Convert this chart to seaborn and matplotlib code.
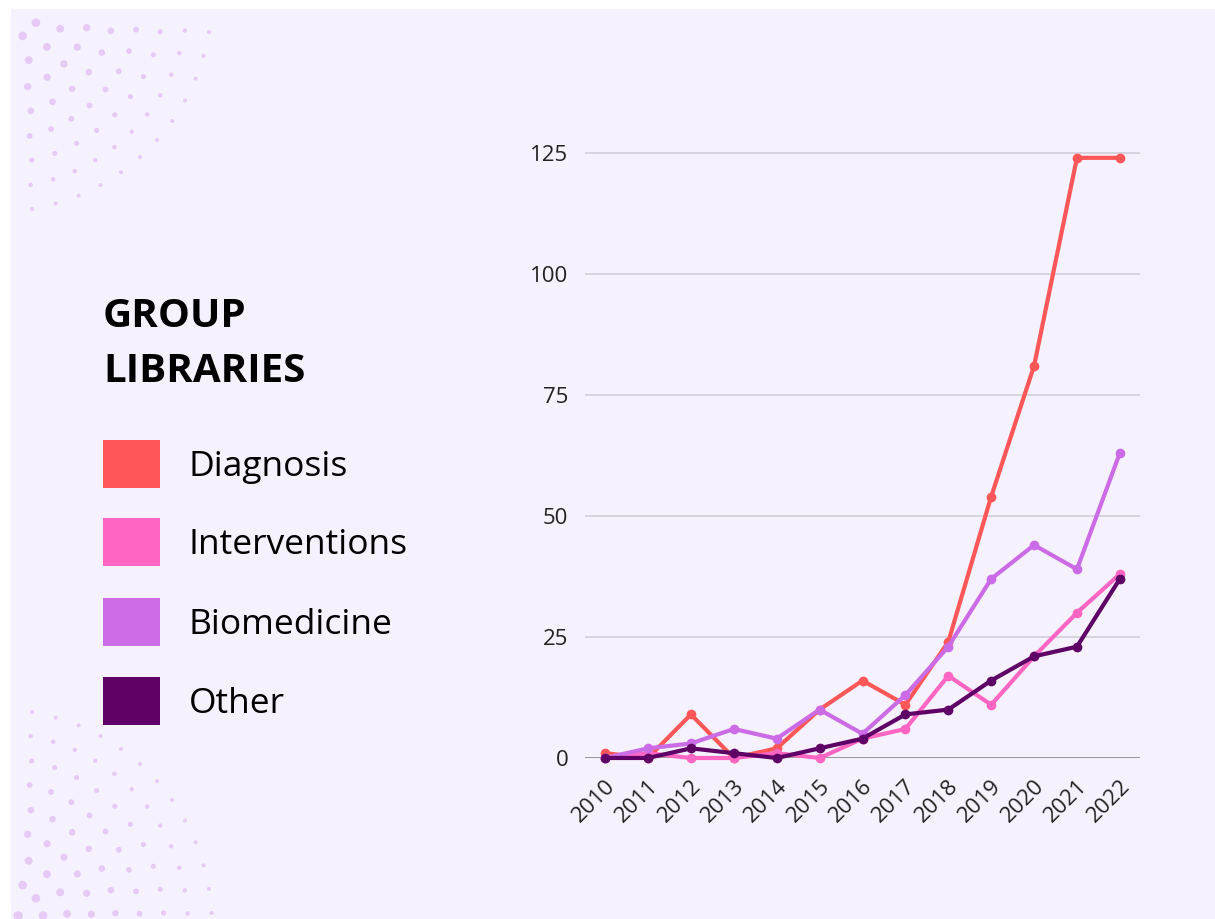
import numpy as np
import pandas as pd
import matplotlib
matplotlib.use("Agg")
import matplotlib.pyplot as plt
from matplotlib.patches import Rectangle
from matplotlib.transforms import ScaledTranslation
import seaborn as sns

years = [2010, 2011, 2012, 2013, 2014, 2015, 2016, 2017, 2018, 2019, 2020, 2021, 2022]
diagnosis = [1, 0, 9, 0, 2, 10, 16, 11, 24, 54, 81, 124, 124]
interventions = [0, 1, 0, 0, 1, 0, 4, 6, 17, 11, 21, 30, 38]
biomedicine = [0, 2, 3, 6, 4, 10, 5, 13, 23, 37, 44, 39, 63]
other = [0, 0, 2, 1, 0, 2, 4, 9, 10, 16, 21, 23, 37]
series_names = ["Diagnosis", "Interventions", "Biomedicine", "Other"]
colors = ["#FF5757", "#FF66C4", "#CB6CE6", "#5E0066"]
y_ticks = [0, 25, 50, 75, 100, 125]

df = pd.DataFrame({
    "year": years * 4,
    "value": diagnosis + interventions + biomedicine + other,
    "group": sum([[n] * len(years) for n in series_names], []),
})

sns.set_theme(style="white")
plt.rcParams["font.family"] = ["Open Sans", "DejaVu Sans"]

W, H = 1215, 919
fig = plt.figure(figsize=(W / 100, H / 100), dpi=100)
fig.patch.set_facecolor("white")
BG = "#F5F1FD"

# background layer in pixel coordinates
bg = fig.add_axes([0, 0, 1, 1], zorder=-5)
bg.set_xlim(0, W)
bg.set_ylim(H, 0)
bg.axis("off")
bg.add_patch(Rectangle((11, 9), W, H, facecolor=BG, edgecolor="none"))

def dot_fan(cx, cy, sign_y):
    xs, ys, ss = [], [], []
    for k in range(1, 10):
        r = 24 * k
        n = int(round((np.pi / 2 * r) / 26)) + 1
        d = max(10 - 0.7 * k, 4.0)
        for j in range(n):
            a = (j + 0.5) / n * (np.pi / 2)
            x = cx + r * np.cos(a)
            y = cy + sign_y * r * np.sin(a)
            if x < 14 or y < 12 or y > H - 2 or r > 225:
                continue
            xs.append(x); ys.append(y); ss.append((d * 0.72) ** 2)
    bg.scatter(xs, ys, s=ss, color="#E6C9F5", linewidths=0)

dot_fan(-4, -4, +1)
dot_fan(-4, H + 6, -1)

ax = fig.add_axes([585 / W, (919 - 758) / H, (1140 - 585) / W, (758 - 143.3) / H])
ax.set_facecolor("none")

sns.lineplot(data=df, x="year", y="value", hue="group", hue_order=series_names,
             palette=colors, marker="o", markersize=7, markeredgewidth=0,
             linewidth=3, ax=ax, legend=False, clip_on=False)

ax.set_xlim(2009.53, 2022.47)
ax.set_ylim(0, 127)
ax.set_yticks(y_ticks)
ax.set_xticks(years)
ax.set_xticklabels([str(y) for y in years], rotation=45, ha="right", va="center",
                   rotation_mode="anchor", fontsize=16, color="#222222")
ax.set_yticklabels([str(v) for v in y_ticks], fontsize=16, color="#222222")
ax.tick_params(axis="y", length=0, pad=12)
ax.tick_params(axis="x", length=0, pad=18)
off = ScaledTranslation(7 / 100, 0, fig.dpi_scale_trans)
for lab in ax.get_xticklabels():
    lab.set_transform(lab.get_transform() + off)
ax.set_xlabel("")
ax.set_ylabel("")
for s in ["top", "right", "left", "bottom"]:
    ax.spines[s].set_visible(False)
for v in y_ticks:
    ax.axhline(v, color="#888488" if v == 0 else "#D3CFDA", linewidth=1.2, zorder=0)

# legend block
fig.text(103 / W, 1 - 327 / H, "GROUP", fontsize=29, fontweight="bold", color="black", va="baseline")
fig.text(103 / W, 1 - 382 / H, "LIBRARIES", fontsize=29, fontweight="bold", color="black", va="baseline")
tops = [440, 518, 598, 677]
for name, c, t in zip(series_names, colors, tops):
    fig.patches.append(Rectangle((103 / W, 1 - (t + 48) / H), 57 / W, 48 / H,
                                 transform=fig.transFigure, facecolor=c, edgecolor="none"))
    fig.text(189 / W, 1 - (t + 36) / H, name, fontsize=25.5, color="black", va="baseline")

fig.savefig("out.png", dpi=100, facecolor=fig.get_facecolor())
